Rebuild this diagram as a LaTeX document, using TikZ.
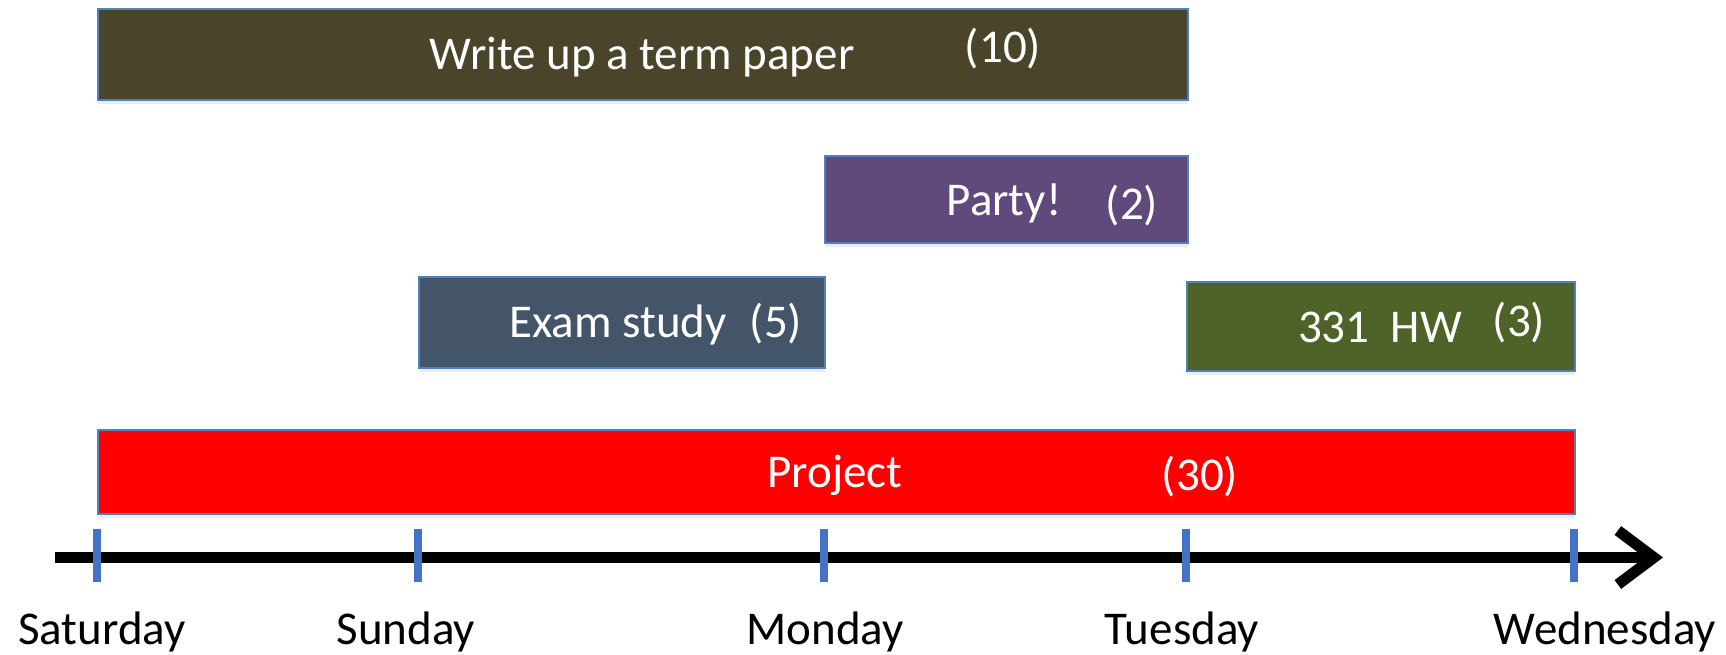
\documentclass[tikz,border=0pt]{standalone}
\usepackage{fontspec}
\setmainfont{Carlito}
\usetikzlibrary{%
	arrows.meta,%
	shadows
}
\definecolor{paperfill}{HTML}{4A452A}
\definecolor{partyfill}{HTML}{604A7B}
\definecolor{examfill}{HTML}{445469}
\definecolor{hwfill}{HTML}{4F6228}
\definecolor{edgeblue}{HTML}{4F81BD}
\definecolor{tickblue}{HTML}{4472C4}
\tikzstyle{task}=[draw=edgeblue, line width=1.5pt, inner sep=0pt, anchor=north west,
	drop shadow={shadow xshift=0pt, shadow yshift=-4pt, opacity=0.15}]
\tikzstyle{tasktext}=[text=white, anchor=base, inner sep=0pt, font=\fontsize{47}{56}\selectfont]
\tikzstyle{daytext}=[anchor=base, inner sep=0pt, font=\fontsize{47}{56}\selectfont]
\tikzstyle{axis}=[draw, line width=11pt, -{Straight Barb[length=36pt, width=54pt]}]
\tikzstyle{tick}=[draw=tickblue, line width=8pt]

\begin{document}
\begin{tikzpicture}[x=1pt, y=-1pt]
		\useasboundingbox (0,0) rectangle (1726,654);
		
		% Task bars
		\node[task, fill=paperfill, minimum width=1090pt, minimum height=91pt] (paper) at (97,8) {};
		\node[task, fill=partyfill, minimum width=363pt, minimum height=87pt] (party) at (824,155) {};
		\node[task, fill=examfill, minimum width=406pt, minimum height=91pt] (exam) at (418,276) {};
		\node[task, fill=hwfill, minimum width=388pt, minimum height=89pt] (hw) at (1186,281) {};
		\node[task, fill=red, minimum width=1477pt, minimum height=84pt] (project) at (97,429) {};
		
		\node[tasktext] (papername) at (642,69) {Write up a term paper};
		\node[tasktext] (paperlen) at (1003,62) {(10)};
		\node[tasktext] (partyname) at (1004,215) {Party!};
		\node[tasktext] (partylen) at (1132,219) {(2)};
		\node[tasktext] (examname) at (618,337) {Exam study};
		\node[tasktext] (examlen) at (776,337) {(5)};
		\node[tasktext] (hwname) at (1380,342) {331\ \ HW};
		\node[tasktext] (hwlen) at (1519,336) {(3)};
		\node[tasktext] (projectname) at (835,487) {Project};
		\node[tasktext] (projectlen) at (1200,490) {(30)};
		
		% Time axis
		\coordinate (axstart) at (55,557.5);
		\coordinate (axend) at (1663,557.5);
		\draw[axis] (axstart) -- (axend);
		
		% Day ticks and names
	\foreach \x/\lx/\day in {97/102/Saturday, 418/406/Sunday, 824/825/Monday, 1186/1182/Tuesday, 1574/1605/Wednesday}{
	\draw[tick] (\x,529) -- (\x,582);
	\node[daytext] (\day) at (\lx,644) {\day};
	}
	\end{tikzpicture}
\end{document}
